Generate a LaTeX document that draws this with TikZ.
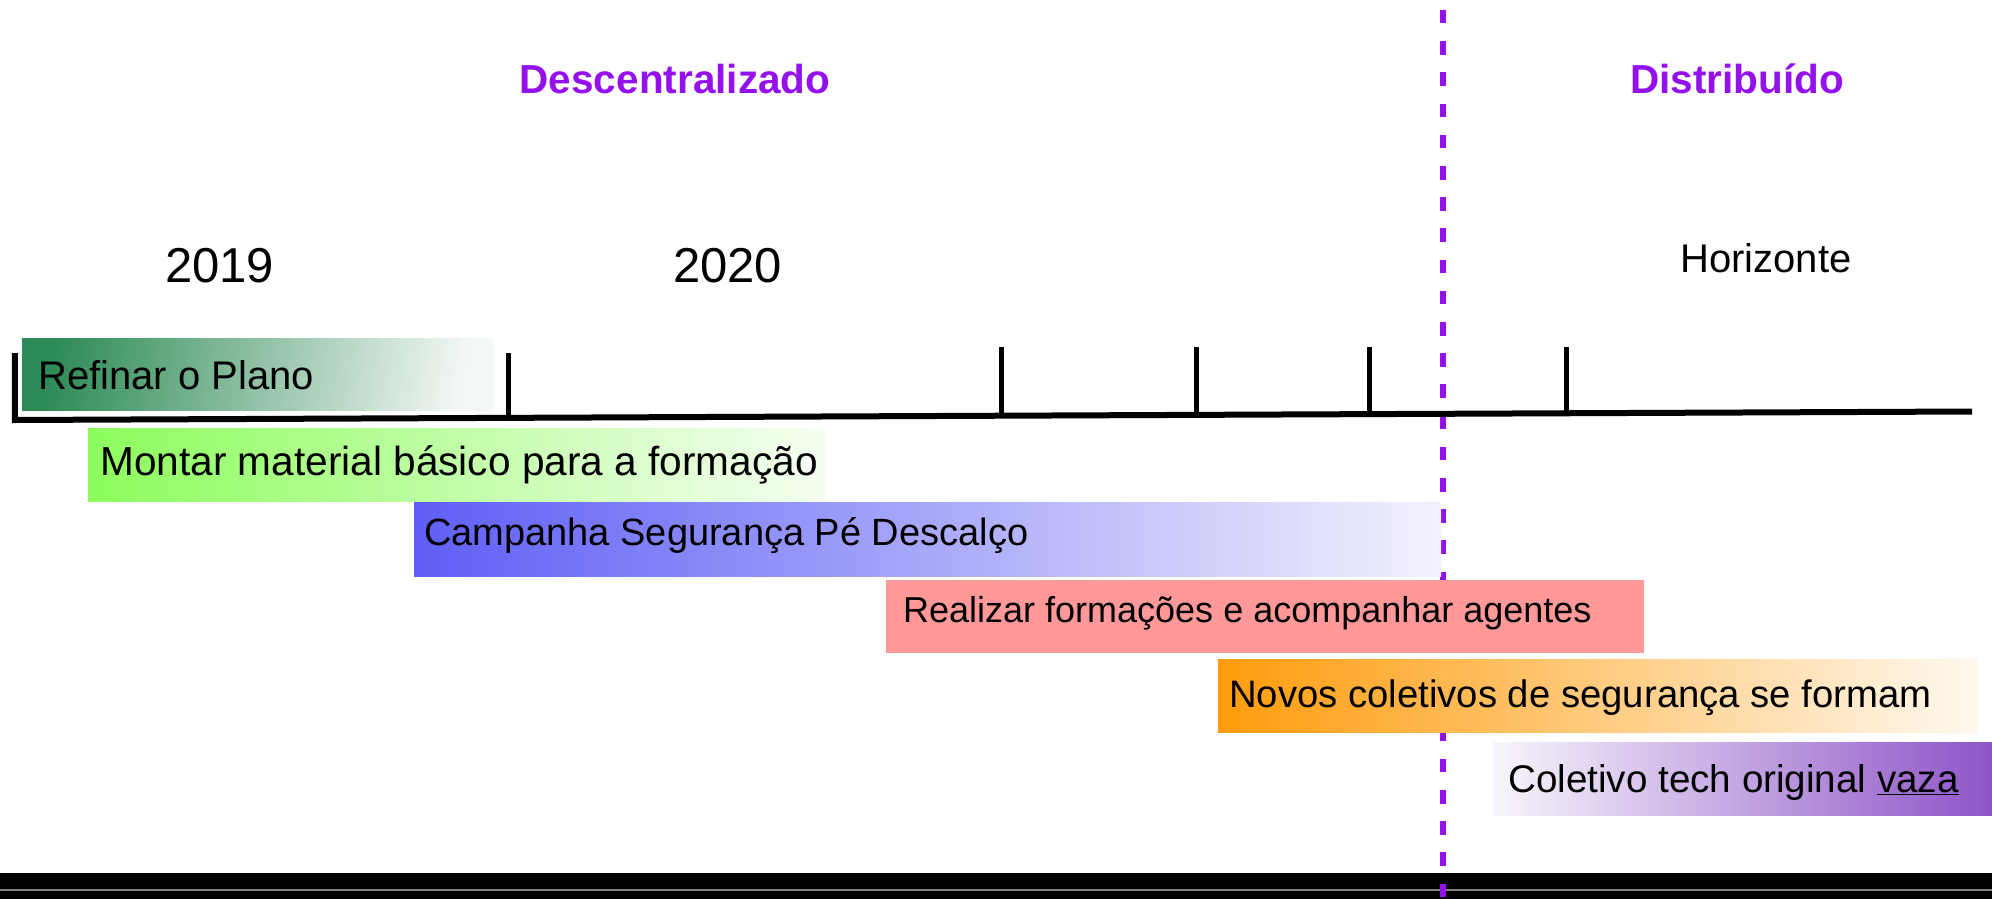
\documentclass[tikz,border=0pt]{standalone}
\usepackage{fontspec}
\setmainfont{Liberation Sans}
\definecolor{phasepurple}{RGB}{148,16,236}
\definecolor{refA}{RGB}{46,139,87}
\definecolor{refB}{RGB}{244,248,245}
\definecolor{monA}{RGB}{140,252,92}
\definecolor{monB}{RGB}{246,255,242}
\definecolor{camA}{RGB}{94,94,246}
\definecolor{camB}{RGB}{242,242,253}
\definecolor{reaA}{RGB}{255,153,153}
\definecolor{novA}{RGB}{255,156,12}
\definecolor{novB}{RGB}{255,249,240}
\definecolor{colA}{RGB}{248,246,252}
\definecolor{colB}{RGB}{142,84,200}
\tikzset{
  barbox/.style={anchor=north west, inner sep=0pt, outer sep=0pt, draw=none},
  bartext/.style={anchor=base west, inner sep=0pt, text=black},
  phaselabel/.style={anchor=base west, inner sep=0pt, text=phasepurple, font=\bfseries\fontsize{40.5}{48}\selectfont},
  yearlabel/.style={anchor=base west, inner sep=0pt, text=black, font=\fontsize{49}{58}\selectfont},
  tline/.style={line width=6pt, line join=miter},
  tickmark/.style={line width=5pt},
  divider/.style={draw=phasepurple, line width=6.5pt, dash pattern=on 13.5pt off 17.7pt, dash phase=21.2pt}
}
\begin{document}
\begin{tikzpicture}[x=1pt,y=-1pt]
\useasboundingbox (0,0) rectangle (1992,899);
\fill[white] (0,0) rectangle (1992,899);
% bottom band
\fill[black] (0,873) rectangle (1992,899);
\draw[gray, line width=2pt] (0,890) -- (1992,890);
% phase divider
\coordinate (dtop) at (1443,0);
\coordinate (dbot) at (1443,899);
\draw[divider] (dtop) -- (dbot);
% axis
\coordinate (a0) at (14.75,353);
\coordinate (a1) at (14.75,420);
\coordinate (a2) at (1972,411.5);
\draw[tline] (a0) -- (a1) -- (a2);
\draw[tickmark] (508,353) -- (508,418);
\draw[tickmark] (1001,347) -- (1001,416);
\draw[tickmark] (1196,347) -- (1196,415);
\draw[tickmark] (1369,347) -- (1369,414);
\draw[tickmark] (1566,347) -- (1566,413);
% headings
\node[phaselabel] (descent) at (519.5,93) {Descentralizado};
\node[phaselabel] (distrib) at (1630,93) {Distribuído};
\node[yearlabel] (y2019) at (165,282) {2019};
\node[yearlabel] (y2020) at (673,282) {2020};
\node[anchor=base west, inner sep=0pt, font=\fontsize{40}{48}\selectfont] (horiz) at (1680,272) {Horizonte};
% bars
\node[barbox, left color=refA, right color=refB, shading angle=80, minimum width=471pt, minimum height=72pt] (b1) at (22,338) {};
\node[barbox, left color=monA, right color=monB, minimum width=738pt, minimum height=73pt] (b2) at (88,428) {};
\node[barbox, left color=camA, right color=camB, minimum width=1027pt, minimum height=74pt] (b3) at (414,502) {};
\node[barbox, fill=reaA, minimum width=758pt, minimum height=73pt] (b4) at (886,580) {};
\node[barbox, left color=novA, right color=novB, minimum width=760pt, minimum height=73pt] (b5) at (1218,659) {};
\node[barbox, left color=colA, right color=colB, minimum width=500pt, minimum height=73pt] (b6) at (1493,742) {};
% bar texts
\node[bartext, font=\fontsize{40}{48}\selectfont] (t1) at (38,389) {Refinar o Plano};
\node[bartext, font=\fontsize{40.6}{48}\selectfont] (t2) at (100,475) {Montar material básico para a formação};
\node[bartext, font=\fontsize{38}{46}\selectfont] (t3) at (424,545.5) {Campanha Segurança Pé Descalço};
\node[bartext, font=\fontsize{36}{44}\selectfont] (t4) at (903,622) {Realizar formações e acompanhar agentes};
\node[bartext, font=\fontsize{38.3}{46}\selectfont] (t5) at (1229,707) {Novos coletivos de segurança se formam};
\node[bartext, font=\fontsize{38.6}{46}\selectfont] (t6) at (1508,792) {Coletivo tech original \underline{vaza}};
\end{tikzpicture}
\end{document}
